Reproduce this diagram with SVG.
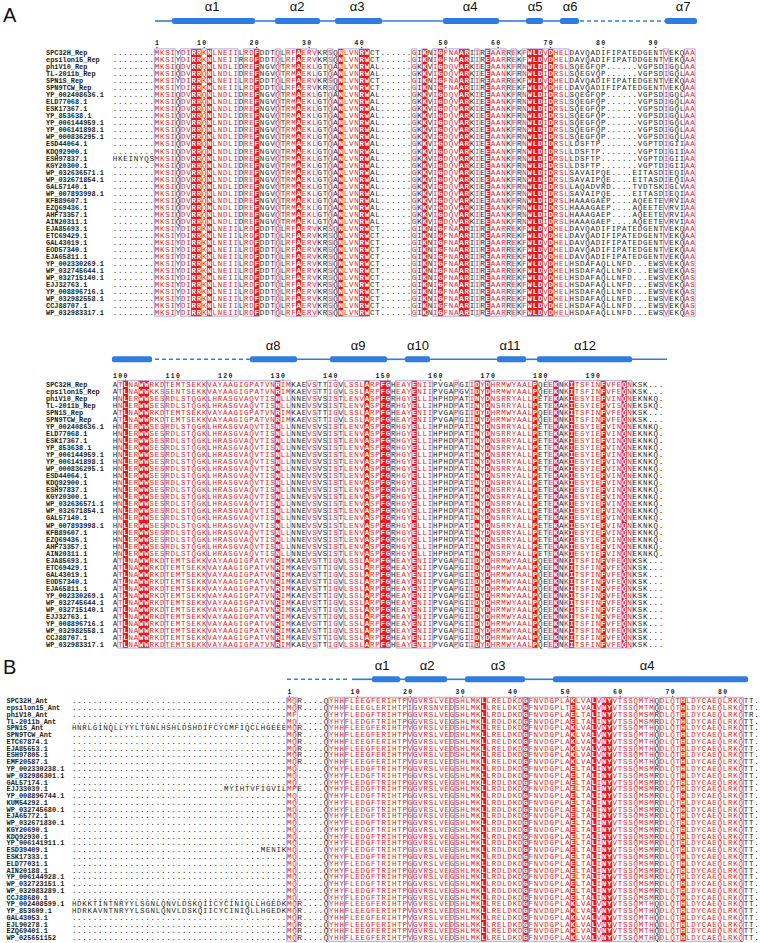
<svg xmlns="http://www.w3.org/2000/svg" xmlns:xlink="http://www.w3.org/1999/xlink" width="760" height="943" viewBox="0 0 760 943">
<style>
.nm{font-family:"Liberation Mono","DejaVu Sans Mono",monospace;font-size:6.9px;font-weight:bold;fill:#222}
.sq{font-family:"Liberation Mono","DejaVu Sans Mono",monospace;font-size:7.5px}
.num{font-family:"Liberation Mono","DejaVu Sans Mono",monospace;font-size:6.5px;font-weight:bold;fill:#222;letter-spacing:1.35px}
.nd{fill:#222}
.hl{fill:#2f7de1}
.coil{stroke:#2f7de1;stroke-width:1.6;fill:none}
.dash{stroke:#2f7de1;stroke-width:1.6;fill:none;stroke-dasharray:4 3}
.al{font-family:"Liberation Sans",Arial,sans-serif;font-size:13px;fill:#111;text-anchor:middle}
.pl{font-family:"Liberation Sans",Arial,sans-serif;font-size:20px;fill:#111}
.id{fill:#e8191c}
.fr{fill:none;stroke:#9292de;stroke-width:0.8;vector-effect:non-scaling-stroke}
</style>
<defs>
<clipPath id="pA1" transform="translate(112.3 0) scale(5.25 1)"><rect x="0" y="0" width="8" height="1000"/><rect x="12" y="0" width="1" height="1000"/><rect x="24" y="0" width="1" height="1000"/><rect x="28" y="0" width="3" height="1000"/><rect x="32" y="0" width="1" height="1000"/><rect x="39" y="0" width="2" height="1000"/><rect x="42" y="0" width="1" height="1000"/><rect x="49" y="0" width="8" height="1000"/><rect x="58" y="0" width="1" height="1000"/><rect x="60" y="0" width="1" height="1000"/><rect x="68" y="0" width="1" height="1000"/><rect x="70" y="0" width="1" height="1000"/><rect x="75" y="0" width="1" height="1000"/><rect x="77" y="0" width="1" height="1000"/><rect x="87" y="0" width="18" height="1000"/><rect x="106" y="0" width="3" height="1000"/></clipPath>
<clipPath id="sA1" transform="translate(112.3 0) scale(5.25 1)"><rect x="8" y="0" width="4" height="1000"/><rect x="13" y="0" width="11" height="1000"/><rect x="25" y="0" width="3" height="1000"/><rect x="31" y="0" width="1" height="1000"/><rect x="33" y="0" width="6" height="1000"/><rect x="41" y="0" width="1" height="1000"/><rect x="43" y="0" width="6" height="1000"/><rect x="57" y="0" width="1" height="1000"/><rect x="59" y="0" width="1" height="1000"/><rect x="61" y="0" width="7" height="1000"/><rect x="69" y="0" width="1" height="1000"/><rect x="71" y="0" width="4" height="1000"/><rect x="76" y="0" width="1" height="1000"/><rect x="78" y="0" width="9" height="1000"/><rect x="105" y="0" width="1" height="1000"/><rect x="109" y="0" width="2" height="1000"/></clipPath>
<clipPath id="iA1" transform="translate(112.3 0) scale(5.25 1)"><rect x="15" y="0" width="2" height="1000"/><rect x="18" y="0" width="1" height="1000"/><rect x="27" y="0" width="1" height="1000"/><rect x="35" y="0" width="1" height="1000"/><rect x="43" y="0" width="1" height="1000"/><rect x="47" y="0" width="2" height="1000"/><rect x="59" y="0" width="1" height="1000"/><rect x="62" y="0" width="1" height="1000"/><rect x="66" y="0" width="2" height="1000"/><rect x="71" y="0" width="1" height="1000"/><rect x="79" y="0" width="3" height="1000"/><rect x="83" y="0" width="1" height="1000"/></clipPath>
<clipPath id="pA2" transform="translate(112.3 0) scale(5.25 1)"><rect x="0" y="0" width="1" height="1000"/><rect x="34" y="0" width="3" height="1000"/><rect x="39" y="0" width="2" height="1000"/><rect x="43" y="0" width="1" height="1000"/><rect x="53" y="0" width="1" height="1000"/><rect x="61" y="0" width="4" height="1000"/><rect x="66" y="0" width="2" height="1000"/><rect x="81" y="0" width="2" height="1000"/><rect x="85" y="0" width="1" height="1000"/><rect x="99" y="0" width="6" height="1000"/></clipPath>
<clipPath id="sA2" transform="translate(112.3 0) scale(5.25 1)"><rect x="1" y="0" width="33" height="1000"/><rect x="37" y="0" width="2" height="1000"/><rect x="41" y="0" width="2" height="1000"/><rect x="44" y="0" width="9" height="1000"/><rect x="54" y="0" width="7" height="1000"/><rect x="65" y="0" width="1" height="1000"/><rect x="68" y="0" width="13" height="1000"/><rect x="83" y="0" width="2" height="1000"/><rect x="86" y="0" width="13" height="1000"/></clipPath>
<clipPath id="iA2" transform="translate(112.3 0) scale(5.25 1)"><rect x="2" y="0" width="1" height="1000"/><rect x="5" y="0" width="2" height="1000"/><rect x="31" y="0" width="1" height="1000"/><rect x="48" y="0" width="1" height="1000"/><rect x="51" y="0" width="2" height="1000"/><rect x="57" y="0" width="1" height="1000"/><rect x="69" y="0" width="1" height="1000"/><rect x="71" y="0" width="1" height="1000"/><rect x="80" y="0" width="1" height="1000"/><rect x="84" y="0" width="1" height="1000"/><rect x="87" y="0" width="1" height="1000"/><rect x="93" y="0" width="1" height="1000"/><rect x="97" y="0" width="1" height="1000"/></clipPath>
<clipPath id="pB" transform="translate(71.5 0) scale(5.25 1)"><rect x="0" y="0" width="41" height="1000"/><rect x="43" y="0" width="6" height="1000"/><rect x="111" y="0" width="1" height="1000"/><rect x="128" y="0" width="3" height="1000"/></clipPath>
<clipPath id="sB" transform="translate(71.5 0) scale(5.25 1)"><rect x="41" y="0" width="2" height="1000"/><rect x="49" y="0" width="62" height="1000"/><rect x="112" y="0" width="16" height="1000"/></clipPath>
<clipPath id="iB" transform="translate(71.5 0) scale(5.25 1)"><rect x="78" y="0" width="1" height="1000"/><rect x="86" y="0" width="1" height="1000"/><rect x="95" y="0" width="1" height="1000"/><rect x="99" y="0" width="1" height="1000"/><rect x="101" y="0" width="2" height="1000"/><rect x="116" y="0" width="1" height="1000"/></clipPath>

<g id="tA1" class="sq">
<text x="112.675" y="55.1" textLength="582" lengthAdjust="spacing">........MKSIYDIRRKNLNEIILRDFDDTQLRFAERVKRSQNLVNRWCT......GIKNIGFNAARIIREAARREKFWLDVDHELDAVQADIFIPATEDGENTVEKQAA</text>
<text x="112.675" y="62.13" textLength="582" lengthAdjust="spacing">........MKSIYDIRRKNLNEIIRRDFDDTQLRFAERVKRSQNLVNRWCT......GIKNIGFNAARIIREAARREKFWLDVDHELDAVQADIFIPATDDGENTVEKQAA</text>
<text x="112.675" y="69.16" textLength="582" lengthAdjust="spacing">........MKSIQDVRRQNLNDLIDREFNGVQTRMAEKLGTQANLVNRWAL......GKKVIGDQVARKIEEAANKFRNWLDIDRSLSQEGFQP......VGPSDIGQLAA</text>
<text x="112.675" y="76.19" textLength="582" lengthAdjust="spacing">........MKSIQDVRRQNLNDLIDREFNGVQTRMAEKLGTQANLVNRWAL......GKKVIGDQVARKIEEAANKFRNWLDIDRSLSQEGVQP......VGPSDIGQLAA</text>
<text x="112.675" y="83.22" textLength="582" lengthAdjust="spacing">........MKSIYDIRRKNLNEIILRDFDDTQLRFAERVKRSQNLVNRWCT......GIKNIGFNAARIIREAARREKFWLDVDHELDAVQADIFIPATEDGENTVEKQAA</text>
<text x="112.675" y="90.25" textLength="582" lengthAdjust="spacing">........MKSIYDIRRKNLNEIILRDFDDTQLRFAERVKRSQNLVNRWCT......GIKNIGFNAARIIREAARREKFWLDVDHELDAVQADIFIPATEDGENTVEKQAA</text>
<text x="112.675" y="97.28" textLength="582" lengthAdjust="spacing">........MKSIQDVRRQNLNDLIDREFNGVQTRMAEKLGTQANLVNRWAL......GKKVIGDQVARKIEEAANKFRNWLDIDRSLSQEGFQP......VGPSDIGQLAA</text>
<text x="112.675" y="104.31" textLength="582" lengthAdjust="spacing">........MKSIQDVRRQNLNDLIDREFNGVQTRMAEKLGTQANLVNRWAL......GKKVIGDQVARKIEEAANKFRNWLDIDRSLSQEGFQP......VGPSDIGQLAA</text>
<text x="112.675" y="111.34" textLength="582" lengthAdjust="spacing">........MKSIQDVRRQNLNDLIDREFNGVQTRMAEKLGTQANLVNRWAL......GKKVIGDQVARKIEEAANKFRNWLDIDRSLSQEGFQP......VGPSDIGQLAA</text>
<text x="112.675" y="118.37" textLength="582" lengthAdjust="spacing">........MKSIQDVRRQNLNDLIDREFNGVQTRMAEKLGTQANLVNRWAL......GKKVIGDQVARKIEEAANKFRNWLDIDRSLSQEGFQP......VGPSDIGQLAA</text>
<text x="112.675" y="125.4" textLength="582" lengthAdjust="spacing">........MKSIQDVRRQNLNDLIDREFNGVQTRMAEKLGTQANLVNRWAL......GKKVIGDQVARKIEEAANKFRNWLDIDRSLSQEGFQP......VGPSDIGQLAA</text>
<text x="112.675" y="132.43" textLength="582" lengthAdjust="spacing">........MKSIQDVRRQNLNDLIDREFNGVQTRMAEKLGTQANLVNRWAL......GKKVIGDQVARKIEEAANKFRNWLDIDRSLSQEGFQP......VGPSDIGQLAA</text>
<text x="112.675" y="139.46" textLength="582" lengthAdjust="spacing">........MKSIQDVRRQNLNDLIDREFNGVQTRMAEKLGTQANLVNRWAL......GKKVIGDQVARKIEEAANKFRNWLDIDRSLSQEGFQP......VGPSDIGQLAA</text>
<text x="112.675" y="146.49" textLength="582" lengthAdjust="spacing">........MKSIQDVRRQNLNDLIDREFNGVQTRMAEKLGTQANLVNRWAL......GKKVIGDQVARKIEEAANKFRNWLDIDRSLLDSFTP.......VGPTDIGIIAA</text>
<text x="112.675" y="153.52" textLength="582" lengthAdjust="spacing">........MKSIQDVRRQNLNDLIDREFNGVQTRMAEKLGTQANLVNRWAL......GKKVIGDQVARKIEEAANKFRNWLDIDRSLLDSFTP.......VGPTDIGIIAA</text>
<text x="112.675" y="160.55" textLength="582" lengthAdjust="spacing">HKEINYQSMKSIQDVRRQNLNDLIDREFNGVQTRMAEKLGTQANLVNRWAL......GKKVIGDQVARKIEEAANKFRNWLDIDRSLLDSFTP.......VGPTDIGIIAA</text>
<text x="112.675" y="167.58" textLength="582" lengthAdjust="spacing">........MKSIQDVRRQNLNDLIDREFNGVQTRMAEKLGTQANLVNRWAL......GKKVIGDQVARKIEEAANKFRNWLDIDRSLLDSFTP.......VGPTDIGIIAA</text>
<text x="112.675" y="174.61" textLength="582" lengthAdjust="spacing">........MKSIQDVRRQNLNDLIDREFNGVQTRMAEKLGTQANLVNRWAL......GKKVIGDQVARKIEEAANKFRNWLDIDRSLSAVAIPQE....EITASDIEQIAA</text>
<text x="112.675" y="181.64" textLength="582" lengthAdjust="spacing">........MKSIQDVRRQNLNDLIDREFNGVQTRMAEKLGTQANLVNRWAL......GKKVIGDQVARKIEEAANKFRNWLDIDRSLSAVAIPQE....EITASDIEQIAA</text>
<text x="112.675" y="188.67" textLength="582" lengthAdjust="spacing">........MKSIQDVRRQNLNDLIDREFNGVQTRMAEKLGTQANLVNRWAL......GKKVIGDQVARKIEEAANKFRNWLDIDRSLLAQADVRD....TVDTSKIGLVAA</text>
<text x="112.675" y="195.7" textLength="582" lengthAdjust="spacing">........MKSIQDVRRQNLNDLIDREFNGVQTRMAEKLGTQANLVNRWAL......GKKVIGDQVARKIEEAANKFRNWLDIDRSLSAVAIPQE....EITASDIEQIAA</text>
<text x="112.675" y="202.73" textLength="582" lengthAdjust="spacing">........MKSIQDVRRQNLNDLIDREFNGVQTRMAEKLGTQANLVNRWAL......GKKVIGDQVARKIEEAANKFRNWLDIDRSLHAAAGAEP....AQEETEVRVIAA</text>
<text x="112.675" y="209.76" textLength="582" lengthAdjust="spacing">........MKSIQDVRRQNLNDLIDREFNGVQTRMAEKLGTQANLVNRWAL......GKKVIGDQVARKIEEAANKFRNWLDIDRSLHAAAGAEP....AQEETEVRVIAA</text>
<text x="112.675" y="216.79" textLength="582" lengthAdjust="spacing">........MKSIQDVRRQNLNDLIDREFNGVQTRMAEKLGTQANLVNRWAL......GKKVIGDQVARKIEEAANKFRNWLDIDRSLHAAAGAEP....AQEETEVRVIAA</text>
<text x="112.675" y="223.82" textLength="582" lengthAdjust="spacing">........MKSIQDVRRQNLNDLIDREFNGVQTRMAEKLGTQANLVNRWAL......GKKVIGDQVARKIEEAANKFRNWLDIDRSLHAAAGAEP....AQEETEVRVIAA</text>
<text x="112.675" y="230.85" textLength="582" lengthAdjust="spacing">........MKSIYDIRRKNLNEIILRDFDDTQLRFAERVKRSQNLVNRWCT......GIKNIGFNAARIIREAARREKFWLDVDHELDAVQADIFIPATEDGENTVEKQAA</text>
<text x="112.675" y="237.88" textLength="582" lengthAdjust="spacing">........MKSIYDIRRKNLNEIILRDFDDTQLRFAERVKRSQNLVNRWCT......GIKNIGFNAARIIREAARREKFWLDVDHELDAVQADIFIPATEDGENTVEKQAA</text>
<text x="112.675" y="244.91" textLength="582" lengthAdjust="spacing">........MKSIYDIRRKNLNEIILRDFDDTQLRFAERVKRSQNLVNRWCT......GIKNIGFNAARIIREAARREKFWLDVDHELDAVQADIFIPATEDGENTVEKQAA</text>
<text x="112.675" y="251.94" textLength="582" lengthAdjust="spacing">........MKSIYDIRRKNLNEIILRDFDDTQLRFAERVKRSQNLVNRWCT......GIKNIGFNAARIIREAARREKFWLDVDHELDAVQADIFIPATEDGENTVEKQAA</text>
<text x="112.675" y="258.97" textLength="582" lengthAdjust="spacing">........MKSIYDIRRKNLNEIILRDFDDTQLRFAERVKRSQNLVNRWCT......GIKNIGFNAARIIREAARREKFWLDVDHELDAVQADIFIPATEDGENTVEKQAA</text>
<text x="112.675" y="266.0" textLength="582" lengthAdjust="spacing">........MKSIYDIRRKNLNEIILRDFDDTQLRFAERVKRSQNLVNRWCT......GIKNIGFNAARIIREAARREKFWLDVDHELHSDAFAQLLNFD...EWSVEKQAS</text>
<text x="112.675" y="273.03" textLength="582" lengthAdjust="spacing">........MKSIYDIRRKNLNEIILRDFDDTQLRFAERVKRSQNLVNRWCT......GIKNIGFNAARIIREAARREKFWLDVDHELHSDAFAQLLNFD...EWSVEKQAS</text>
<text x="112.675" y="280.06" textLength="582" lengthAdjust="spacing">........MKSIYDIRRKNLNEIILRDFDDTQLRFAERVKRSQNLVNRWCT......GIKNIGFNAARIIREAARREKFWLDVDHELHSDAFAQLLNFD...EWSVEKQAS</text>
<text x="112.675" y="287.09" textLength="582" lengthAdjust="spacing">........MKSIYDIRRKNLNEIILRDFDDTQLRFAERVKRSQNLVNRWCT......GIKNIGFNAARIIREAARREKFWLDVDHELHSDAFAQLLNFD...EWSVEKQAS</text>
<text x="112.675" y="294.12" textLength="582" lengthAdjust="spacing">........MKSIYDIRRKNLNEIILRDFDDTQLRFAERVKRSQNLVNRWCT......GIKNIGFNAARIIREAARREKFWLDVDHELHSDAFAQLLNFD...EWSVEKQAS</text>
<text x="112.675" y="301.15" textLength="582" lengthAdjust="spacing">........MKSIYDIRRKNLNEIILRDFDDTQLRFAERVKRSQNLVNRWCT......GIKNIGFNAARIIREAARREKFWLDVDHELHSDAFAQLLNFD...EWSVEKQAS</text>
<text x="112.675" y="308.18" textLength="582" lengthAdjust="spacing">........MKSIYDIRRKNLNEIILRDFDDTQLRFAERVKRSQNLVNRWCT......GIKNIGFNAARIIREAARREKFWLDVDHELHSDAFAQLLNFD...EWSVEKQAS</text>
<text x="112.675" y="315.21" textLength="582" lengthAdjust="spacing">........MKSIYDIRRKNLNEIILRDFDDTQLRFAERVKRSQNLVNRWCT......GIKNIGFNAARIIREAARREKFWLDVDHELHSDAFAQLLNFD...EWSVEKQAS</text>
</g>

<g id="tA2" class="sq">
<text x="112.675" y="386.9" textLength="550.5" lengthAdjust="spacing">ATLNAWWRKDTEMTSEKKVAYAAGIGPATVNRIMKAEVSTTIGVLSSLARPFGHEAYENIIPVGAPGIIDYDHRMWYAALPQEEKNKITSFINFVFEQNKSK...</text>
<text x="112.675" y="393.93" textLength="550.5" lengthAdjust="spacing">ATLNAWWKKSSENTSEKKVAYAAGIGPATVNRIMKAEVSTTIGVLSSLARPFGHEAYENIIPVGAPGVIDYDHRMWYAALPQEEKNKITSFINFVFEQNKSK...</text>
<text x="112.675" y="400.96" textLength="550.5" lengthAdjust="spacing">HNLERWWSESRDLSTQGKLHRASGVAQVTISNLLNNEVSVSISTLENVASPFGRHGYELLIHPHDPATINYDNSRRYALLPETEKAKIESYIEFVINQNEKNKQ.</text>
<text x="112.675" y="407.99" textLength="550.5" lengthAdjust="spacing">HNLERWWSESRDLSTQGKLHRASGVAQVTISNLLNNEVSVSISTLENVASPFGRHGYELLIHPHDPATINYDNSRRYALLPETEKAKIESYIEFVISQNEKSKQ.</text>
<text x="112.675" y="415.02" textLength="550.5" lengthAdjust="spacing">ATLNAWWRKDTEMTSEKKVAYAAGIGPATVNRIMKAEVSTTIGVLSSLARPFGHEAYENIIPVGAPGIIDYDHRMWYAALPQEEKNKITSFINFVFEQNKSK...</text>
<text x="112.675" y="422.05" textLength="550.5" lengthAdjust="spacing">ATLNAWWRKDTEMTSEKKVAYAAGIGPATVNRIMKAEVSTTIGVLSSLARPFGHEAYENIIPVGAPGIIDYDHRMWYAALPQEEKNKITSFINFVFEQNKSK...</text>
<text x="112.675" y="429.08" textLength="550.5" lengthAdjust="spacing">HNLERWWSESRDLSTQGKLHRASGVAQVTISNLLNNEVSVSISTLENVASPFGRHGYELLIHPHDPATINYDNSRRYALLPETEKAKIESYIEFVINQNEKNKQ.</text>
<text x="112.675" y="436.11" textLength="550.5" lengthAdjust="spacing">HNLERWWSESRDLSTQGKLHRASGVAQVTISNLLNNEVSVSISTLENVASPFGRHGYELLIHPHDPATINYDNSRRYALLPETEKAKIESYIEFVINQNEKNKQ.</text>
<text x="112.675" y="443.14" textLength="550.5" lengthAdjust="spacing">HNLERWWSESRDLSTQGKLHRASGVAQVTISNLLNNEVSVSISTLENVASPFGRHGYELLIHPHDPATINYDNSRRYALLPETEKAKIESYIEFVINQNEKNKQ.</text>
<text x="112.675" y="450.17" textLength="550.5" lengthAdjust="spacing">HNLERWWSESRDLSTQGKLHRASGVAQVTISNLLNNEVSVSISTLENVASPFGRHGYELLIHPHDPATINYDNSRRYALLPETEKAKIESYIEFVINQNEKNKQ.</text>
<text x="112.675" y="457.2" textLength="550.5" lengthAdjust="spacing">HNLERWWSESRDLSTQGKLHRASGVAQVTISNLLNNEVSVSISTLENVASPFGRHGYELLIHPHDPATINYDNSRRYALLPETEKAKIESYIEFVINQNEKNKQ.</text>
<text x="112.675" y="464.23" textLength="550.5" lengthAdjust="spacing">HNLERWWSESRDLSTQGKLHRASGVAQVTISNLLNNEVSVSISTLENVASPFGRHGYELLIHPHDPATINYDNSRRYALLPETEKAKIESYIEFVINQNEKNKQ.</text>
<text x="112.675" y="471.26" textLength="550.5" lengthAdjust="spacing">HNLERWWSESRDLSTQGKLHRASGVAQVTISNLLNNEVSVSISTLENVASPFGRHGYELLIHPHDPATINYDNSRRYALLPETEKAKIESYIEFVINQNEKNKQ.</text>
<text x="112.675" y="478.29" textLength="550.5" lengthAdjust="spacing">HNLERWWSESRDLSTQGKLHRASGVAQVTISNLLNNEVSVSISTLENVASPFGRHGYELLIHPHDPATINYDNSRRYALLPETEKAKIESYIEFVINQNEKNKQ.</text>
<text x="112.675" y="485.32" textLength="550.5" lengthAdjust="spacing">HNLERWWSESRDLSTQGKLHRASGVAQVTISNLLNNEVSVSISTLENVASPFGRHGYELLIHPHDPATINYDNSRRYALLPETEKAKIESYIEFVINQNEKNKQ.</text>
<text x="112.675" y="492.35" textLength="550.5" lengthAdjust="spacing">HNLERWWSESRDLSTQGKLHRASGVAQVTISNLLNNEVSVSISTLENVASPFGRHGYELLIHPHDPATINYDNSRRYALLPETEKAKIESYIEFVINQNEKNKQ.</text>
<text x="112.675" y="499.38" textLength="550.5" lengthAdjust="spacing">HNLERWWSESRDLSTQGKLHRASGVAQVTISNLLNNEVSVSISTLENVASPFGRHGYELLIHPHDPATINYDNSRRYALLPETEKAKIESYIEFVINQNEKNKQ.</text>
<text x="112.675" y="506.41" textLength="550.5" lengthAdjust="spacing">HNLERWWSESRDLSTQGKLHRASGVAQVTISNLLNNEVSVSISTLENVASPFGRHGYELLIHPHDPATINYDNSRRYALLPETEKAKIESYIEFVINQNEKNKQ.</text>
<text x="112.675" y="513.44" textLength="550.5" lengthAdjust="spacing">HNLERWWSESRDLSTQGKLHRASGVAQVTISNLLNNEVSVSISTLENVASPFGRHGYELLIHPHDPATINYDNSRRYALLPETEKAKIESYIEFVINQNEKNKQ.</text>
<text x="112.675" y="520.47" textLength="550.5" lengthAdjust="spacing">HNLERWWSESRDLSTQGKLHRASGVAQVTISNLLNNEVSVSISTLENVASPFGRHGYELLIHPHDPATINYDNSRRYALLPETEKAKIESYIEFVINQNEKNKQ.</text>
<text x="112.675" y="527.5" textLength="550.5" lengthAdjust="spacing">HNLERWWSESRDLSTQGKLHRASGVAQVTISNLLNNEVSVSISTLENVASPFGRHGYELLIHPHDPATINYDNSRRYALLPETEKAKIESYIEFVINQNEKNKQ.</text>
<text x="112.675" y="534.53" textLength="550.5" lengthAdjust="spacing">HNLERWWSESRDLSTQGKLHRASGVAQVTISNLLNNEVSVSISTLENVASPFGRHGYELLIHPHDPATINYDNSRRYALLPETEKAKIESYIEFVINQNEKNKQ.</text>
<text x="112.675" y="541.56" textLength="550.5" lengthAdjust="spacing">HNLERWWSESRDLSTQGKLHRASGVAQVTISNLLNNEVSVSISTLENVASPFGRHGYELLIHPHDPATINYDNSRRYALLPETEKAKIESYIEFVINQNEKNKQ.</text>
<text x="112.675" y="548.59" textLength="550.5" lengthAdjust="spacing">HNLERWWSESRDLSTQGKLHRASGVAQVTISNLLNNEVSVSISTLENVASPFGRHGYELLIHPHDPATINYDNSRRYALLPETEKAKIESYIEFVINQNEKNKQ.</text>
<text x="112.675" y="555.62" textLength="550.5" lengthAdjust="spacing">HNLERWWSESRDLSTQGKLHRASGVAQVTISNLLNNEVSVSISTLENVASPFGRHGYELLIHPHDPATINYDNSRRYALLPETEKAKIESYIEFVINQNEKNKQ.</text>
<text x="112.675" y="562.65" textLength="550.5" lengthAdjust="spacing">ATLNAWWRKDTEMTSEKKVAYAAGIGPATVNRIMKAEVSTTIGVLSSLARPFGHEAYENIIPVGAPGIIDYDHRMWYAALPQEEKNKITSFINFVFEQNKSK...</text>
<text x="112.675" y="569.68" textLength="550.5" lengthAdjust="spacing">ATLNAWWRKDTEMTSEKKVAYAAGIGPATVNRIMKAEVSTTIGVLSSLARPFGHEAYENIIPVGAPGIIDYDHRMWYAALPQEEKNKITSFINFVFEQNKSK...</text>
<text x="112.675" y="576.71" textLength="550.5" lengthAdjust="spacing">ATLNAWWRKDTEMTSEKKVAYAAGIGPATVNRIMKAEVSTTIGVLSSLARPFGHEAYENIIPVGAPGIIDYDHRMWYAALPQEEKNKITSFINFVFEQNKSK...</text>
<text x="112.675" y="583.74" textLength="550.5" lengthAdjust="spacing">ATLNAWWRKDTEMTSEKKVAYAAGIGPATVNRIMKAEVSTTIGVLSSLARPFGHEAYENIIPVGAPGIIDYDHRMWYAALPQEEKNKITSFINFVFEQNKSK...</text>
<text x="112.675" y="590.77" textLength="550.5" lengthAdjust="spacing">ATLNAWWRKDTEMTSEKKVAYAAGIGPATVNRIMKAEVSTTIGVLSSLARPFGHEAYENIIPVGAPGIIDYDHRMWYAALPQEEKNKITSFINFVFEQNKSK...</text>
<text x="112.675" y="597.8" textLength="550.5" lengthAdjust="spacing">ATLNAWWRKDTEMTSEKKVAYAAGIGPATVNRIMKAEVSTTIGVLSSLARPFGHEAYENIIPVGAPGIIDYDHRMWYAALPQEEKNKITSFINFVFEQNKSK...</text>
<text x="112.675" y="604.83" textLength="550.5" lengthAdjust="spacing">ATLNAWWRKDTEMTSEKKVAYAAGIGPATVNRIMKAEVSTTIGVLSSLARPFGHEAYENIIPVGAPGIIDYDHRMWYAALPQEEKNKITSFINFVFEQNKSK...</text>
<text x="112.675" y="611.86" textLength="550.5" lengthAdjust="spacing">ATLNAWWRKDTEMTSEKKVAYAAGIGPATVNRIMKAEVSTTIGVLSSLARPFGHEAYENIIPVGAPGIIDYDHRMWYAALPQEEKNKITSFINFVFEQNKSK...</text>
<text x="112.675" y="618.89" textLength="550.5" lengthAdjust="spacing">ATLNAWWRKDTEMTSEKKVAYAAGIGPATVNRIMKAEVSTTIGVLSSLARPFGHEAYENIIPVGAPGIIDYDHRMWYAALPQEEKNKITSFINFVFEQNKSK...</text>
<text x="112.675" y="625.92" textLength="550.5" lengthAdjust="spacing">ATLNAWWRKDTEMTSEKKVAYAAGIGPATVNRIMKAEVSTTIGVLSSLARPFGHEAYENIIPVGAPGIIDYDHRMWYAALPQEEKNKITSFINFVFEQNKSK...</text>
<text x="112.675" y="632.95" textLength="550.5" lengthAdjust="spacing">ATLNAWWRKDTEMTSEKKVAYAAGIGPATVNRIMKAEVSTTIGVLSSLARPFGHEAYENIIPVGAPGIIDYDHRMWYAALPQEEKNKITSFINFVFEQNKSK...</text>
<text x="112.675" y="639.98" textLength="550.5" lengthAdjust="spacing">ATLNAWWRKDTEMTSEKKVAYAAGIGPATVNRIMKAEVSTTIGVLSSLARPFGHEAYENIIPVGAPGIIDYDHRMWYAALPQEEKNKITSFINFVFEQNKSK...</text>
<text x="112.675" y="647.01" textLength="550.5" lengthAdjust="spacing">ATLNAWWRKDTEMTSEKKVAYAAGIGPATVNRIMKAEVSTTIGVLSSLARPFGHEAYENIIPVGAPGIIDYDHRMWYAALPQEEKNKITSFINFVFEQNKSK...</text>
</g>

<g id="tB" class="sq">
<text x="71.875" y="703.3" textLength="687" lengthAdjust="spacing">.........................................MQR....QYHHFLEEGFERIHTPVGVRSLVEDSHLMKLLRELDKDGFNVDGPLAKLVALVNYVTSSQMTHQDLQTHLDYCAEQLRKQTT.</text>
<text x="71.875" y="710.07" textLength="687" lengthAdjust="spacing">.........................................MQR....QYHHFLEEGLERIHTPIGVRSNVEDSHLMKLLRELDKDGFNVDGPLTELVALVNYVTSSQMTMQDLQTHLDYCAEQLRKQTT.</text>
<text x="71.875" y="716.84" textLength="687" lengthAdjust="spacing">.........................................MF.....QYHYFLEDGFTRIHTPGGVRSLVEGSHLMKLLRDLDKDGFNVDGPLAELTALINYVTSSQMSMRDLQTHLDYCAEQLRKQTR.</text>
<text x="71.875" y="723.61" textLength="687" lengthAdjust="spacing">.........................................MQ.....QYHYFLEDGFTRIHTPGGVRSLVEGSHLMKLLRDLDKDGFNVDGPLAELTALINYVTSSQMSMRDLQTHLDYCAEQLRKQTT.</text>
<text x="71.875" y="730.38" textLength="687" lengthAdjust="spacing">HNRLGINQLLYYLTGNLHSHLDSHDIFCYCMFIQCLHGEEEMQR....QYHHFLEEGFERIHTPVGVRSLVEDSHLMKLLRELDKDGFNVDGPLAKLVALVNYVTSSQMTHQDLQTHLDYCAEQLRKQTT.</text>
<text x="71.875" y="737.15" textLength="687" lengthAdjust="spacing">.........................................MQR....QYHHFLEEGFERIHTPVGVRSLVEDSHLMKLLRELDKDGFNVDGPLAKLVALVNYVTSSQMTHQDLQTHLDYCAEQLRKQTT.</text>
<text x="71.875" y="743.92" textLength="687" lengthAdjust="spacing">.........................................MQR....QYHHFLEEGFERIHTPVGVRSLVEDSHLMKLLRELDKDGFNVDGPLAKLVALVNYVTSSQMTHQDLQTHLDYCAEQLRKQTT.</text>
<text x="71.875" y="750.69" textLength="687" lengthAdjust="spacing">.........................................MQR....QYHHFLEEGFERIHTPVGVRSLVEDSHLMKLLRELDKDGFNVDGPLAKLVALVNYVTSSQMTHQDLQTHLDYCAEQLRKQTT.</text>
<text x="71.875" y="757.46" textLength="687" lengthAdjust="spacing">.........................................MQR....QYHHFLEEGFERIHTPVGVRSLVEDSHLMKLLRELDKDGFNVDGPLAKLVALVNYVTSSQMTHQDLQTHLDYCAEQLRKQTT.</text>
<text x="71.875" y="764.23" textLength="687" lengthAdjust="spacing">.........................................MQR....QYHHFLEEGFERIHTPVGVRSLVEDSHLMKLLRELDKDGFNVDGPLAKLVALVNYVTSSQMTHQDLQTHLDYCAEQLRKQTT.</text>
<text x="71.875" y="771.0" textLength="687" lengthAdjust="spacing">.........................................MQ.....QYHYFLEDGFTRIHTPGGVRSLVEGSHLMKLLRDLDKDGFNVDGPLAELTALINYVTSSQMSMRDLQTHLDYCAEQLRKQTT.</text>
<text x="71.875" y="777.77" textLength="687" lengthAdjust="spacing">.........................................MQ.....QYHYFLEDGFTRIHTPGGVRSLVEGSHLMKLLRDLDKDGFNVDGPLAELTALINYVTSSQMSMRDLQTHLDYCAEQLRKQTT.</text>
<text x="71.875" y="784.54" textLength="687" lengthAdjust="spacing">.........................................MQ.....QYHYFLEDGFTRIHTPGGVRSLVEGSHLMKLLRDLDKDGFNVDGPLAELTALINYVTSSQMSMRDLQTHLDYCAEQLRKQTT.</text>
<text x="71.875" y="791.31" textLength="687" lengthAdjust="spacing">.............................MYIHTVFIGVILMPE....QYHYFLEDGFTRIHTPGGVRSLVEGSHLMKLLRDLDKDGFNVDGPLAELTALINYVTSSQMSMRDLQTHLDYCAEQLRKQTT.</text>
<text x="71.875" y="798.08" textLength="687" lengthAdjust="spacing">.........................................MQ.....QYHYFLEDGFTRIHTPGGVRSLVEGSHLMKLLRDLDKDGFNVDGPLAELTALINYVTSSQMSMRDLQTHLDYCAEQLRKQTT.</text>
<text x="71.875" y="804.85" textLength="687" lengthAdjust="spacing">.........................................MQ.....QYHYFLEDGFTRIHTPGGVRSLVEGSHLMKLLRDLDKDGFNVDGPLAELTALINYVTSSQMSMRDLQTHLDYCAEQLRKQTT.</text>
<text x="71.875" y="811.62" textLength="687" lengthAdjust="spacing">.........................................MQ.....QYHYFLEDGFTRIHTPGGVRSLVEGSHLMKLLRDLDKDGFNVDGPLAELTALINYVTSSQMSMRDLQTHLDYCAEQLRKQTT.</text>
<text x="71.875" y="818.39" textLength="687" lengthAdjust="spacing">.........................................MQ.....QYHYFLEDGFTRIHTPGGVRSLVEGSHLMKLLRDLDKDGFNVDGPLAELTALINYVTSSQMSMRDLQTHLDYCAEQLRKQTT.</text>
<text x="71.875" y="825.16" textLength="687" lengthAdjust="spacing">.........................................MQ.....QYHYFLEDGFTRIHTPGGVRSLVEGSHLMKLLRDLDKDGFNVDGPLAELTALINYVTSSQMSMRDLQTHLDYCAEQLRKQTT.</text>
<text x="71.875" y="831.93" textLength="687" lengthAdjust="spacing">.........................................MQ.....QYHYFLEDGFTRIHTPGGVRSLVEGSHLMKLLRDLDKDGFNVDGPLAELTALINYVTSSQMSMRDLQTHLDYCAEQLRKQTT.</text>
<text x="71.875" y="838.7" textLength="687" lengthAdjust="spacing">.........................................MQ.....QYHYFLEDGFTRIHTPGGVRSLVEGSHLMKLLRDLDKDGFNVDGPLAELTALINYVTSSQMSMRDLQTHLDYCAEQLRKQTT.</text>
<text x="71.875" y="845.47" textLength="687" lengthAdjust="spacing">.........................................MQ.....QYHYFLEDGFTRIHTPGGVRSLVEGSHLMKLLRDLDKDGFNVDGPLAELTALINYVTSSQMSMRDLQTHLDYCAEQLRKQTT.</text>
<text x="71.875" y="852.24" textLength="687" lengthAdjust="spacing">....................................MENIKMQ.....QYHYFLEDGFTRIHTPGGVRSLVEGSHLMKLLRDLDKDGFNVDGPLAELTALINYVTSSQMSMRDLQTHLDYCAEQLRKQTT.</text>
<text x="71.875" y="859.01" textLength="687" lengthAdjust="spacing">.........................................MQ.....QYHYFLEDGFTRIHTPGGVRSLVEGSHLMKLLRDLDKDGFNVDGPLAELTALINYVTSSQMSMRDLQTHLDYCAEQLRKQTT.</text>
<text x="71.875" y="865.78" textLength="687" lengthAdjust="spacing">.........................................MQ.....QYHYFLEDGFTRIHTPGGVRSLVEGSHLMKLLRDLDKDGFNVDGPLAELTALINYVTSSQMSMRDLQTHLDYCAEQLRKQTT.</text>
<text x="71.875" y="872.55" textLength="687" lengthAdjust="spacing">.........................................MQ.....QYHYFLEDGFTRIHTPGGVRSLVEGSHLMKLLRDLDKDGFNVDGPLAELTALINYVTSSQMSMRDLQTHLDYCAEQLRKQTT.</text>
<text x="71.875" y="879.32" textLength="687" lengthAdjust="spacing">.........................................MQ.....QYHYFLEDGFTRIHTPGGVRSLVEGSHLMKLLRDLDKDGFNVDGPLAELTALINYVTSSQMSMRDLQTHLDYCAEQLRKQTT.</text>
<text x="71.875" y="886.09" textLength="687" lengthAdjust="spacing">.........................................MQ.....QYHYFLEDGFTRIHTPGGVRSLVEGSHLMKLLRDLDKDGFNVDGPLAELTALINYVTSSQMSMRDLQTHLDYCAEQLRKQTT.</text>
<text x="71.875" y="892.86" textLength="687" lengthAdjust="spacing">.........................................MQ.....QYHYFLEDGFTRIHTPGGVRSLVEGSHLMKLLRDLDKDGFNVDGPLAELTALINYVTSSQMSMRDLQTHLDYCAEQLRKQTT.</text>
<text x="71.875" y="899.63" textLength="687" lengthAdjust="spacing">.........................................MQ.....QYHYFLEDGFTRIHTPGGVRSLVEGSHLMKLLRDLDKDGFNVDGPLAELTALINYVTSSQMSMRDLQTHLDYCAEQLRKQTT.</text>
<text x="71.875" y="906.4" textLength="687" lengthAdjust="spacing">HDKKTINTNRYYLSGNLQNVLDSKQIICYCINIQLLHGEDKMQR....QYHHFLEEGFERIHTPVGVRSLVEDSHLMKLLRELDKDGFNVDGPLAKLVALVNYVTSSQMTHQDLQTHLDYCAEQLRKQTT.</text>
<text x="71.875" y="913.17" textLength="687" lengthAdjust="spacing">HDRKAVNTNRYYLSGNLQNVLDSKQIICYCINIQLLHGEDKMQR....QYHHFLEEGFERIHTPVGVRSLVEDSHLMKLLRELDKDGFNVDGPLAKLVALVNYVTSSQMTHQDLQTHLDYCAEQLRKQTT.</text>
<text x="71.875" y="919.94" textLength="687" lengthAdjust="spacing">.........................................MQR....QYHHFLEEGFERIHTPVGVRSLVEDSHLMKLLRELDKDGFNVDGPLAKLVALVNYVTSSQMTHQDLQTHLDYCAEQLRKQTT.</text>
<text x="71.875" y="926.71" textLength="687" lengthAdjust="spacing">.........................................MQR....QYHHFLEEGFERIHTPVGVRSLVEDSHLMKLLRELDKDGFNVDGPLAKLVALVNYVTSSQMTHQDLQTHLDYCAEQLRKQTT.</text>
<text x="71.875" y="933.48" textLength="687" lengthAdjust="spacing">.........................................MQR....QYHHFLEEGFERIHTPVGVRSLVEDSHLMKLLRELDKDGFNVDGPLAKLVALVNYVTSSQMTHQDLQTHLDYCAEQLRKQTT.</text>
<text x="71.875" y="940.25" textLength="687" lengthAdjust="spacing">.........................................MQR....QYHHFLEEGFERIHTPVGVRSLVEDSHLMKLLRELDKDGFNVDGPLAKLVALVNYVTSSQMTHQDLQTHLDYCAEQLRKQTT.</text>
</g>
</defs>

<rect width="760" height="943" fill="#ffffff"/>

<g id="panelA-block1">
<text class="pl" x="3" y="22">A</text>
<g id="ssA1">
<line class="coil" x1="155" y1="21" x2="172" y2="21"/>
<rect class="hl" x="172" y="18" width="83" height="6" rx="2"/>
<line class="coil" x1="255" y1="21" x2="275" y2="21"/>
<rect class="hl" x="275" y="18" width="45" height="6" rx="2"/>
<line class="coil" x1="320" y1="21" x2="335" y2="21"/>
<rect class="hl" x="335" y="18" width="47" height="6" rx="2"/>
<line class="coil" x1="382" y1="21" x2="443" y2="21"/>
<rect class="hl" x="443" y="18" width="56" height="6" rx="2"/>
<line class="coil" x1="499" y1="21" x2="526" y2="21"/>
<rect class="hl" x="526" y="18" width="17" height="6" rx="2"/>
<line class="coil" x1="543" y1="21" x2="560" y2="21"/>
<rect class="hl" x="560" y="18" width="19" height="6" rx="2"/>
<line class="dash" x1="580" y1="21" x2="665" y2="21"/>
<rect class="hl" x="665" y="18" width="32" height="6" rx="2"/>
<text class="al" x="212" y="11">α1</text>
<text class="al" x="297" y="11">α2</text>
<text class="al" x="357" y="11">α3</text>
<text class="al" x="470" y="11">α4</text>
<text class="al" x="535" y="11">α5</text>
<text class="al" x="570" y="11">α6</text>
<text class="al" x="683" y="11">α7</text>
</g>
<g id="numA1">
<text class="num" x="154.975" y="45">1</text>
<text class="num" x="196.975" y="45">10</text>
<text class="num" x="249.475" y="45">20</text>
<text class="num" x="301.975" y="45">30</text>
<text class="num" x="354.475" y="45">40</text>
<text class="num" x="438.475" y="45">50</text>
<text class="num" x="490.975" y="45">60</text>
<text class="num" x="543.475" y="45">70</text>
<text class="num" x="595.975" y="45">80</text>
<text class="num" x="648.475" y="45">90</text>
<circle class="nd" cx="156.925" cy="47.4" r="0.6"/><circle class="nd" cx="204.175" cy="47.4" r="0.6"/><circle class="nd" cx="256.675" cy="47.4" r="0.6"/><circle class="nd" cx="309.175" cy="47.4" r="0.6"/><circle class="nd" cx="361.675" cy="47.4" r="0.6"/><circle class="nd" cx="445.675" cy="47.4" r="0.6"/><circle class="nd" cx="498.175" cy="47.4" r="0.6"/><circle class="nd" cx="550.675" cy="47.4" r="0.6"/><circle class="nd" cx="603.175" cy="47.4" r="0.6"/><circle class="nd" cx="655.675" cy="47.4" r="0.6"/>
</g>
<g id="boxA1" transform="translate(112.3 0) scale(5.25 1)">
<rect class="id" x="15" y="48.9" width="2" height="267.3"/><rect class="id" x="18" y="48.9" width="1" height="267.3"/><rect class="id" x="27" y="48.9" width="1" height="267.3"/><rect class="id" x="35" y="48.9" width="1" height="267.3"/><rect class="id" x="43" y="48.9" width="1" height="267.3"/><rect class="id" x="47" y="48.9" width="2" height="267.3"/><rect class="id" x="59" y="48.9" width="1" height="267.3"/><rect class="id" x="62" y="48.9" width="1" height="267.3"/><rect class="id" x="66" y="48.9" width="2" height="267.3"/><rect class="id" x="71" y="48.9" width="1" height="267.3"/><rect class="id" x="79" y="48.9" width="3" height="267.3"/><rect class="id" x="83" y="48.9" width="1" height="267.3"/>
<rect class="fr" x="8" y="48.9" width="4" height="267.3"/><rect class="fr" x="13" y="48.9" width="11" height="267.3"/><rect class="fr" x="25" y="48.9" width="3" height="267.3"/><rect class="fr" x="31" y="48.9" width="1" height="267.3"/><rect class="fr" x="33" y="48.9" width="6" height="267.3"/><rect class="fr" x="41" y="48.9" width="1" height="267.3"/><rect class="fr" x="43" y="48.9" width="6" height="267.3"/><rect class="fr" x="57" y="48.9" width="1" height="267.3"/><rect class="fr" x="59" y="48.9" width="1" height="267.3"/><rect class="fr" x="61" y="48.9" width="7" height="267.3"/><rect class="fr" x="69" y="48.9" width="1" height="267.3"/><rect class="fr" x="71" y="48.9" width="4" height="267.3"/><rect class="fr" x="76" y="48.9" width="1" height="267.3"/><rect class="fr" x="78" y="48.9" width="9" height="267.3"/><rect class="fr" x="105" y="48.9" width="1" height="267.3"/><rect class="fr" x="109" y="48.9" width="2" height="267.3"/>
</g>
<use href="#tA1" fill="#1e1e1e" clip-path="url(#pA1)"/>
<use href="#tA1" fill="#e8191c" clip-path="url(#sA1)"/>
<use href="#tA1" fill="#ffffff" font-weight="bold" clip-path="url(#iA1)"/>
<g id="namesA1" class="nm">
<text x="46" y="55.1">SPC32H_Rep</text><text x="46" y="62.13">epsilon15_Rep</text><text x="46" y="69.16">phiV10_Rep</text><text x="46" y="76.19">TL-2011b_Rep</text><text x="46" y="83.22">SPN1S_Rep</text><text x="46" y="90.25">SPN9TCW_Rep</text><text x="46" y="97.28">YP_002408636.1</text><text x="46" y="104.31">ELD77068.1</text><text x="46" y="111.34">ESK17367.1</text><text x="46" y="118.37">YP_853638.1</text><text x="46" y="125.4">YP_006144959.1</text><text x="46" y="132.43">YP_006141898.1</text><text x="46" y="139.46">WP_000836295.1</text><text x="46" y="146.49">ESD44064.1</text><text x="46" y="153.52">KDQ92900.1</text><text x="46" y="160.55">ESH97837.1</text><text x="46" y="167.58">KGY20300.1</text><text x="46" y="174.61">WP_032636571.1</text><text x="46" y="181.64">WP_032671854.1</text><text x="46" y="188.67">GAL57140.1</text><text x="46" y="195.7">WP_007893998.1</text><text x="46" y="202.73">KFB89607.1</text><text x="46" y="209.76">EZQ69436.1</text><text x="46" y="216.79">AHF73357.1</text><text x="46" y="223.82">AIN20311.1</text><text x="46" y="230.85">EJA85693.1</text><text x="46" y="237.88">ETC69429.1</text><text x="46" y="244.91">GAL43019.1</text><text x="46" y="251.94">EOD57340.1</text><text x="46" y="258.97">EJA65811.1</text><text x="46" y="266.0">YP_002330269.1</text><text x="46" y="273.03">WP_032745644.1</text><text x="46" y="280.06">WP_032715140.1</text><text x="46" y="287.09">EJJ32763.1</text><text x="46" y="294.12">YP_008896716.1</text><text x="46" y="301.15">WP_032982558.1</text><text x="46" y="308.18">CCJ88707.1</text><text x="46" y="315.21">WP_032983317.1</text>
</g>
</g>

<g id="panelA-block2">
<g id="ssA2">
<rect class="hl" x="112" y="356.3" width="40" height="6" rx="2"/>
<line class="dash" x1="155" y1="359.3" x2="250" y2="359.3"/>
<rect class="hl" x="250" y="356.3" width="47" height="6" rx="2"/>
<line class="coil" x1="297" y1="359.3" x2="330" y2="359.3"/>
<rect class="hl" x="330" y="356.3" width="57" height="6" rx="2"/>
<line class="coil" x1="387" y1="359.3" x2="405" y2="359.3"/>
<rect class="hl" x="405" y="356.3" width="25" height="6" rx="2"/>
<line class="coil" x1="430" y1="359.3" x2="497" y2="359.3"/>
<rect class="hl" x="497" y="356.3" width="29" height="6" rx="2"/>
<line class="coil" x1="526" y1="359.3" x2="537" y2="359.3"/>
<rect class="hl" x="537" y="356.3" width="95" height="6" rx="2"/>
<line class="coil" x1="632" y1="359.3" x2="667" y2="359.3"/>
<text class="al" x="273" y="350">α8</text>
<text class="al" x="358" y="350">α9</text>
<text class="al" x="418" y="350">α10</text>
<text class="al" x="510" y="350">α11</text>
<text class="al" x="585" y="350">α12</text>
</g>
<g id="numA2">
<text class="num" x="112.975" y="378">100</text>
<text class="num" x="165.475" y="378">110</text>
<text class="num" x="217.975" y="378">120</text>
<text class="num" x="270.475" y="378">130</text>
<text class="num" x="322.975" y="378">140</text>
<text class="num" x="375.475" y="378">150</text>
<text class="num" x="427.975" y="378">160</text>
<text class="num" x="480.475" y="378">170</text>
<text class="num" x="532.975" y="378">180</text>
<text class="num" x="585.475" y="378">190</text>
<circle class="nd" cx="125.425" cy="380.2" r="0.6"/><circle class="nd" cx="177.925" cy="380.2" r="0.6"/><circle class="nd" cx="230.425" cy="380.2" r="0.6"/><circle class="nd" cx="282.925" cy="380.2" r="0.6"/><circle class="nd" cx="335.425" cy="380.2" r="0.6"/><circle class="nd" cx="387.925" cy="380.2" r="0.6"/><circle class="nd" cx="440.425" cy="380.2" r="0.6"/><circle class="nd" cx="492.925" cy="380.2" r="0.6"/><circle class="nd" cx="545.425" cy="380.2" r="0.6"/><circle class="nd" cx="597.925" cy="380.2" r="0.6"/>
</g>
<g id="boxA2" transform="translate(112.3 0) scale(5.25 1)">
<rect class="id" x="2" y="380.7" width="1" height="267.3"/><rect class="id" x="5" y="380.7" width="2" height="267.3"/><rect class="id" x="31" y="380.7" width="1" height="267.3"/><rect class="id" x="48" y="380.7" width="1" height="267.3"/><rect class="id" x="51" y="380.7" width="2" height="267.3"/><rect class="id" x="57" y="380.7" width="1" height="267.3"/><rect class="id" x="69" y="380.7" width="1" height="267.3"/><rect class="id" x="71" y="380.7" width="1" height="267.3"/><rect class="id" x="80" y="380.7" width="1" height="267.3"/><rect class="id" x="84" y="380.7" width="1" height="267.3"/><rect class="id" x="87" y="380.7" width="1" height="267.3"/><rect class="id" x="93" y="380.7" width="1" height="267.3"/><rect class="id" x="97" y="380.7" width="1" height="267.3"/>
<rect class="fr" x="1" y="380.7" width="9" height="267.3"/><rect class="fr" x="10" y="380.7" width="8" height="267.3"/><rect class="fr" x="18" y="380.7" width="13" height="267.3"/><rect class="fr" x="31" y="380.7" width="3" height="267.3"/><rect class="fr" x="37" y="380.7" width="2" height="267.3"/><rect class="fr" x="41" y="380.7" width="2" height="267.3"/><rect class="fr" x="44" y="380.7" width="9" height="267.3"/><rect class="fr" x="54" y="380.7" width="7" height="267.3"/><rect class="fr" x="65" y="380.7" width="1" height="267.3"/><rect class="fr" x="68" y="380.7" width="13" height="267.3"/><rect class="fr" x="83" y="380.7" width="2" height="267.3"/><rect class="fr" x="86" y="380.7" width="13" height="267.3"/>
</g>
<use href="#tA2" fill="#1e1e1e" clip-path="url(#pA2)"/>
<use href="#tA2" fill="#e8191c" clip-path="url(#sA2)"/>
<use href="#tA2" fill="#ffffff" font-weight="bold" clip-path="url(#iA2)"/>
<g id="namesA2" class="nm">
<text x="46" y="386.9">SPC32H_Rep</text><text x="46" y="393.93">epsilon15_Rep</text><text x="46" y="400.96">phiV10_Rep</text><text x="46" y="407.99">TL-2011b_Rep</text><text x="46" y="415.02">SPN1S_Rep</text><text x="46" y="422.05">SPN9TCW_Rep</text><text x="46" y="429.08">YP_002408636.1</text><text x="46" y="436.11">ELD77068.1</text><text x="46" y="443.14">ESK17367.1</text><text x="46" y="450.17">YP_853638.1</text><text x="46" y="457.2">YP_006144959.1</text><text x="46" y="464.23">YP_006141898.1</text><text x="46" y="471.26">WP_000836295.1</text><text x="46" y="478.29">ESD44064.1</text><text x="46" y="485.32">KDQ92900.1</text><text x="46" y="492.35">ESH97837.1</text><text x="46" y="499.38">KGY20300.1</text><text x="46" y="506.41">WP_032636571.1</text><text x="46" y="513.44">WP_032671854.1</text><text x="46" y="520.47">GAL57140.1</text><text x="46" y="527.5">WP_007893998.1</text><text x="46" y="534.53">KFB89607.1</text><text x="46" y="541.56">EZQ69436.1</text><text x="46" y="548.59">AHF73357.1</text><text x="46" y="555.62">AIN20311.1</text><text x="46" y="562.65">EJA85693.1</text><text x="46" y="569.68">ETC69429.1</text><text x="46" y="576.71">GAL43019.1</text><text x="46" y="583.74">EOD57340.1</text><text x="46" y="590.77">EJA65811.1</text><text x="46" y="597.8">YP_002330269.1</text><text x="46" y="604.83">WP_032745644.1</text><text x="46" y="611.86">WP_032715140.1</text><text x="46" y="618.89">EJJ32763.1</text><text x="46" y="625.92">YP_008896716.1</text><text x="46" y="632.95">WP_032982558.1</text><text x="46" y="639.98">CCJ88707.1</text><text x="46" y="647.01">WP_032983317.1</text>
</g>
</g>

<g id="panelB">
<text class="pl" x="3" y="674">B</text>
<g id="ssB">
<line class="dash" x1="287" y1="679.3" x2="350" y2="679.3"/>
<line class="coil" x1="352" y1="679.3" x2="372" y2="679.3"/>
<rect class="hl" x="372" y="676.3" width="28" height="6" rx="2"/>
<line class="coil" x1="400" y1="679.3" x2="405" y2="679.3"/>
<rect class="hl" x="405" y="676.3" width="42" height="6" rx="2"/>
<line class="coil" x1="447" y1="679.3" x2="465" y2="679.3"/>
<rect class="hl" x="465" y="676.3" width="60" height="6" rx="2"/>
<line class="coil" x1="525" y1="679.3" x2="553" y2="679.3"/>
<rect class="hl" x="553" y="676.3" width="195" height="6" rx="2"/>
<text class="al" x="382" y="670">α1</text>
<text class="al" x="427" y="670">α2</text>
<text class="al" x="498" y="670">α3</text>
<text class="al" x="647" y="670">α4</text>
</g>
<g id="numB">
<text class="num" x="287.425" y="694">1</text>
<text class="num" x="350.425" y="694">10</text>
<text class="num" x="402.925" y="694">20</text>
<text class="num" x="455.425" y="694">30</text>
<text class="num" x="507.925" y="694">40</text>
<text class="num" x="560.425" y="694">50</text>
<text class="num" x="612.925" y="694">60</text>
<text class="num" x="665.425" y="694">70</text>
<text class="num" x="717.925" y="694">80</text>
<circle class="nd" cx="289.375" cy="696.3" r="0.6"/><circle class="nd" cx="357.625" cy="696.3" r="0.6"/><circle class="nd" cx="410.125" cy="696.3" r="0.6"/><circle class="nd" cx="462.625" cy="696.3" r="0.6"/><circle class="nd" cx="515.125" cy="696.3" r="0.6"/><circle class="nd" cx="567.625" cy="696.3" r="0.6"/><circle class="nd" cx="620.125" cy="696.3" r="0.6"/><circle class="nd" cx="672.625" cy="696.3" r="0.6"/><circle class="nd" cx="725.125" cy="696.3" r="0.6"/>
</g>
<g id="boxB" transform="translate(71.5 0) scale(5.25 1)">
<rect class="id" x="78" y="697.3" width="1" height="244"/><rect class="id" x="86" y="697.3" width="1" height="244"/><rect class="id" x="95" y="697.3" width="1" height="244"/><rect class="id" x="99" y="697.3" width="1" height="244"/><rect class="id" x="101" y="697.3" width="2" height="244"/><rect class="id" x="116" y="697.3" width="1" height="244"/>
<rect class="fr" x="41" y="697.3" width="2" height="244"/><rect class="fr" x="49" y="697.3" width="3" height="244"/><rect class="fr" x="52" y="697.3" width="12" height="244"/><rect class="fr" x="64" y="697.3" width="1" height="244"/><rect class="fr" x="65" y="697.3" width="7" height="244"/><rect class="fr" x="72" y="697.3" width="1" height="244"/><rect class="fr" x="73" y="697.3" width="13" height="244"/><rect class="fr" x="86" y="697.3" width="1" height="244"/><rect class="fr" x="87" y="697.3" width="24" height="244"/><rect class="fr" x="112" y="697.3" width="16" height="244"/>
</g>
<use href="#tB" fill="#1e1e1e" clip-path="url(#pB)"/>
<use href="#tB" fill="#e8191c" clip-path="url(#sB)"/>
<use href="#tB" fill="#ffffff" font-weight="bold" clip-path="url(#iB)"/>
<g id="namesB" class="nm">
<text x="6.5" y="703.3">SPC32H_Ant</text><text x="6.5" y="710.07">epsilon15_Ant</text><text x="6.5" y="716.84">phiV10_Ant</text><text x="6.5" y="723.61">TL-2011b_Ant</text><text x="6.5" y="730.38">SPN1S_Ant</text><text x="6.5" y="737.15">SPN9TCW_Ant</text><text x="6.5" y="743.92">ETC67874.1</text><text x="6.5" y="750.69">EJA85653.1</text><text x="6.5" y="757.46">ESH97805.1</text><text x="6.5" y="764.23">EMF20587.1</text><text x="6.5" y="771.0">YP_002330238.1</text><text x="6.5" y="777.77">WP_032986301.1</text><text x="6.5" y="784.54">GAL57174.1</text><text x="6.5" y="791.31">EJJ33039.1</text><text x="6.5" y="798.08">YP_008896744.1</text><text x="6.5" y="804.85">KUM54292.1</text><text x="6.5" y="811.62">WP_032745680.1</text><text x="6.5" y="818.39">EJA65772.1</text><text x="6.5" y="825.16">WP_032671830.1</text><text x="6.5" y="831.93">KGY20690.1</text><text x="6.5" y="838.7">KDQ92930.1</text><text x="6.5" y="845.47">YP_006141911.1</text><text x="6.5" y="852.24">ESD39409.1</text><text x="6.5" y="859.01">ESK17333.1</text><text x="6.5" y="865.78">ELD77031.1</text><text x="6.5" y="872.55">AIN20188.1</text><text x="6.5" y="879.32">YP_006144928.1</text><text x="6.5" y="886.09">WP_032723151.1</text><text x="6.5" y="892.86">WP_032983289.1</text><text x="6.5" y="899.63">CCJ88680.1</text><text x="6.5" y="906.4">YP_002408599.1</text><text x="6.5" y="913.17">YP_853609.1</text><text x="6.5" y="919.94">GAL43053.1</text><text x="6.5" y="926.71">EJL90278.1</text><text x="6.5" y="933.48">EZQ69401.1</text><text x="6.5" y="940.25">WP_025651152</text>
</g>
</g>
</svg>
